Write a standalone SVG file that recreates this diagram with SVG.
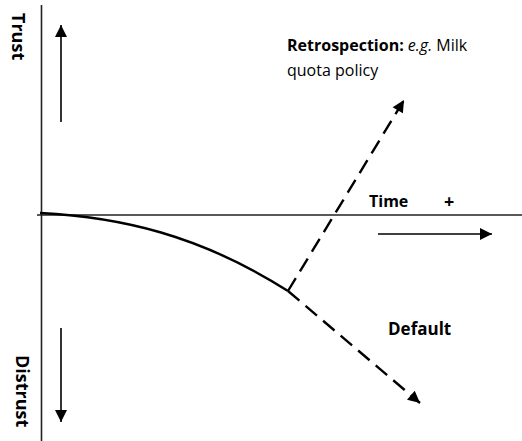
<svg xmlns="http://www.w3.org/2000/svg" width="522" height="441" viewBox="0 0 522 441">
<style>
.t{font-family:"Open Sans","Noto Sans","Liberation Sans",sans-serif;font-size:16px;fill:#000}
.b{font-weight:bold}
.v{font-size:18px}
.m{font-size:17px}
.ax{stroke:#222;stroke-width:1.6;fill:none}
.ar{stroke:#000;stroke-width:1.6;fill:none}
.ds{stroke:#000;stroke-width:2.4;fill:none;stroke-dasharray:15 8}
</style>
<defs>
<marker id="ahs" viewBox="0 0 10 10" refX="10" refY="5" markerWidth="14" markerHeight="12" markerUnits="userSpaceOnUse" orient="auto">
<path d="M0,0 L10,5 L0,10 z" fill="#000"/>
</marker>
</defs>
<g id="axes">
<line class="ax" x1="41.5" y1="5" x2="41.5" y2="441"/>
<line class="ax" x1="37" y1="215" x2="522" y2="215"/>
</g>
<g id="connectors">
<line class="ar" x1="61" y1="122" x2="61" y2="25" marker-end="url(#ahs)"/>
<line class="ar" x1="61" y1="328" x2="61" y2="422" marker-end="url(#ahs)"/>
<line class="ar" x1="378" y1="234" x2="492" y2="234" marker-end="url(#ahs)"/>
<path d="M40,213 C120,217 200,235 288,291" stroke="#000" stroke-width="2.4" fill="none"/>
<line class="ds" x1="288" y1="291" x2="404" y2="100" marker-end="url(#ahs)"/>
<line class="ds" x1="288" y1="291" x2="420" y2="403" marker-end="url(#ahs)"/>
</g>
<g id="label-trust"><text class="t b v" transform="translate(12,13) rotate(90)">Trust</text></g>
<g id="label-distrust"><text class="t b v" transform="translate(16,355) rotate(90)">Distrust</text></g>
<g id="label-retro"><text class="t" x="287" y="51"><tspan class="b">Retrospection:</tspan> <tspan font-style="italic">e.g.</tspan> Milk</text>
<text class="t" x="287" y="76">quota policy</text></g>
<g id="label-time"><text class="t b" x="369" y="207">Time</text><text class="t b v" x="444" y="208">+</text></g>
<g id="label-default"><text class="t b m" x="388" y="335">Default</text></g>
</svg>
